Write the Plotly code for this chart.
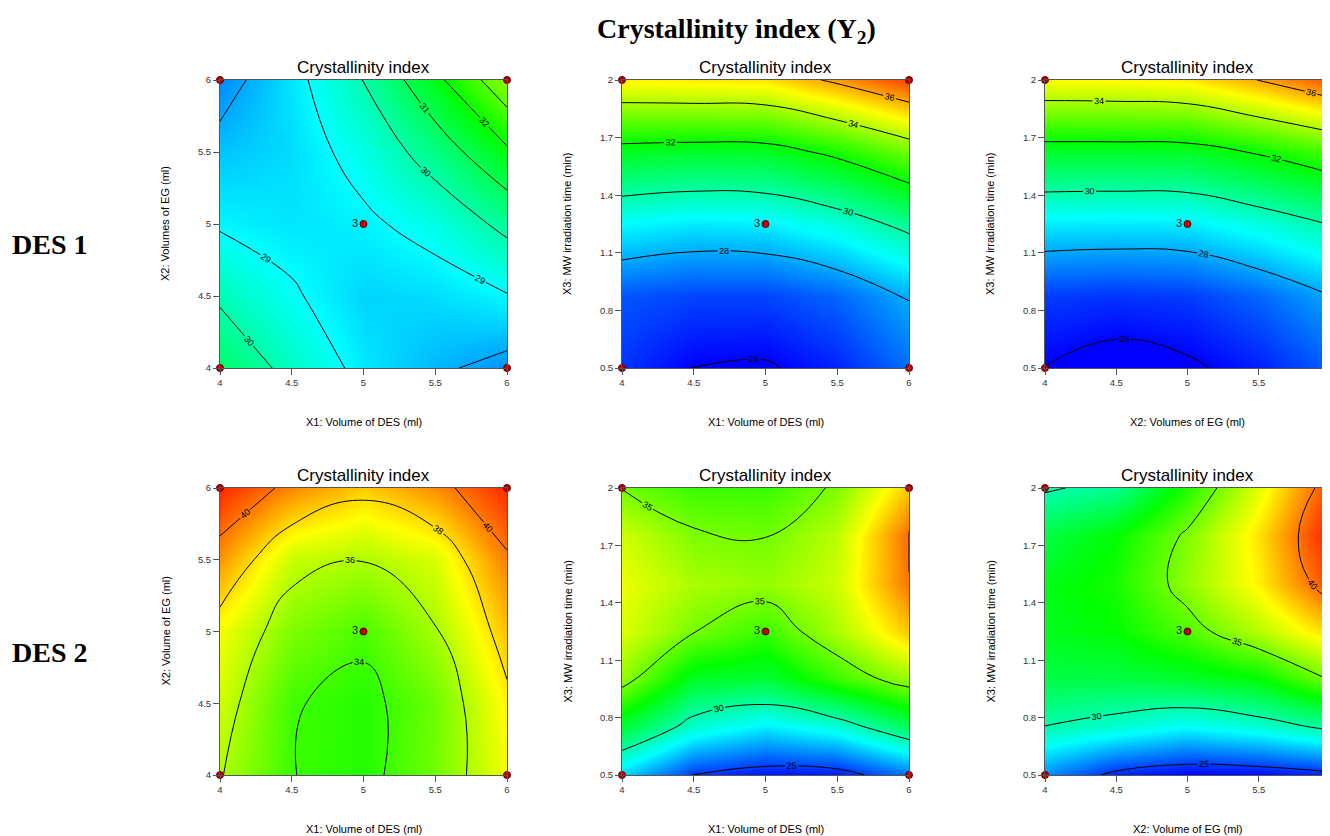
import plotly.graph_objects as go

# ---------------- data ----------------
x_grid = [4, 4.5, 5, 5.5, 6]                              # X1 or X2 factor levels
vol_grid = [4, 4.5, 5, 5.5, 6]                            # X2 volume levels (y)
time_grid = [0.5, 0.875, 1.25, 1.625, 2.0]                # X3 irradiation time (y)
time_grid_fine = [0.5, 0.75, 1.0, 1.25, 1.5, 1.75, 2.0]   # X3 levels for DES 2

tick_vol = [4, 4.5, 5, 5.5, 6]
tick_vol_text = ["4", "4.5", "5", "5.5", "6"]
tick_time = [0.5, 0.8, 1.1, 1.4, 1.7, 2]
tick_time_text = ["0.5", "0.8", "1.1", "1.4", "1.7", "2"]

# Crystallinity index estimates, rows = y levels (bottom -> top), cols = x levels
des1_x1_x2 = [
    [30.8, 29.7, 28.75, 28.15, 27.7],
    [29.85, 29.1, 28.5, 28.6, 28.95],
    [28.9, 28.7, 28.85, 29.3, 30.25],
    [28.3, 28.6, 29.3, 30.45, 31.85],
    [27.6, 28.7, 30.02, 31.75, 33.7],
]
des1_x1_x3 = [
    [26.6, 25.97, 25.9, 26.4, 27.3],
    [27.0, 26.8, 26.8, 27.2, 28.05],
    [29.0, 28.75, 28.85, 29.4, 30.3],
    [31.6, 31.5, 31.55, 32.25, 33.3],
    [35.1, 35.2, 35.3, 36.2, 37.2],
]
des1_x2_x3 = [
    [25.98, 25.6, 25.85, 26.35, 27.1],
    [26.7, 26.6, 26.7, 27.2, 27.98],
    [28.8, 28.75, 28.8, 29.35, 30.02],
    [31.5, 31.5, 31.55, 32.1, 32.8],
    [35.0, 35.05, 35.2, 36.02, 37.0],
]
des2_x1_x2 = [
    [36.1, 34.03, 33.6, 35.0, 37.3],
    [36.7, 34.1, 33.6, 34.9, 37.7],
    [37.3, 35.2, 34.3, 35.9, 38.6],
    [39.35, 36.5, 36.05, 36.8, 39.8],
    [41.3, 39.6, 38.4, 39.5, 41.3],
]
des2_x1_x3 = [
    [27.8, 24.95, 24.3, 24.4, 26.0],
    [32.1, 29.3, 28.2, 29.1, 31.4],
    [35.6, 32.3, 32.0, 34.0, 35.7],
    [36.9, 35.05, 34.0, 36.0, 38.5],
    [37.2, 36.0, 35.6, 36.6, 39.95],
    [36.7, 35.2, 34.98, 36.3, 40.15],
    [34.95, 34.0, 34.0, 35.2, 38.5],
]
des2_x2_x3 = [
    [26.5, 24.6, 24.0, 24.1, 24.6],
    [29.95, 29.3, 28.5, 29.2, 30.3],
    [31.8, 31.8, 32.2, 32.9, 35.1],
    [32.5, 33.0, 34.4, 36.2, 38.2],
    [32.6, 33.4, 35.6, 37.7, 40.8],
    [31.8, 33.0, 35.25, 38.0, 41.6],
    [29.8, 30.5, 33.6, 37.0, 40.8],
]

# design points: factorial corners + centre point (3 replicates)
corner_x = [4, 6, 4, 6]
corner_vol = [4, 4, 6, 6]
corner_time = [0.5, 0.5, 2, 2]
centre_x = [5]
centre_vol = [5]
centre_time = [1.25]
centre_text = ["3"]

# ---------------- styling ----------------
colorscale = [[0, "rgb(0,0,255)"], [0.25, "rgb(0,255,255)"], [0.5, "rgb(0,255,0)"],
              [0.75, "rgb(255,255,0)"], [1, "rgb(255,0,0)"]]
OFF = 8                      # page body margin of the browser
W, H = 1330 - OFF, 836 - OFF
col_px = [(220, 507), (622, 909), (1045, 1330)]
row_px = [(80, 368), (488, 775)]


def px(v):
    return v - OFF


panels = [
    dict(z=des1_x1_x2, y=vol_grid, ty=tick_vol, tyt=tick_vol_text, dy=corner_vol, cy=centre_vol,
         zr=(26, 38), c=(27, 34, 1), xt="X1: Volume of DES (ml)", yt="X2: Volumes of EG (ml)", yr=(4, 6)),
    dict(z=des1_x1_x3, y=time_grid, ty=tick_time, tyt=tick_time_text, dy=corner_time, cy=centre_time,
         zr=(26, 38), c=(26, 36, 2), xt="X1: Volume of DES (ml)", yt="X3: MW irradiation time (min)", yr=(0.5, 2)),
    dict(z=des1_x2_x3, y=time_grid, ty=tick_time, tyt=tick_time_text, dy=corner_time, cy=centre_time,
         zr=(26, 38), c=(26, 36, 2), xt="X2: Volumes of EG (ml)", yt="X3: MW irradiation time (min)", yr=(0.5, 2)),
    dict(z=des2_x1_x2, y=vol_grid, ty=tick_vol, tyt=tick_vol_text, dy=corner_vol, cy=centre_vol,
         zr=(24, 42), c=(34, 40, 2), xt="X1: Volume of DES (ml)", yt="X2: Volume of EG (ml)", yr=(4, 6)),
    dict(z=des2_x1_x3, y=time_grid_fine, ty=tick_time, tyt=tick_time_text, dy=corner_time, cy=centre_time,
         zr=(24, 42), c=(25, 40, 5), xt="X1: Volume of DES (ml)", yt="X3: MW irradiation time (min)", yr=(0.5, 2)),
    dict(z=des2_x2_x3, y=time_grid_fine, ty=tick_time, tyt=tick_time_text, dy=corner_time, cy=centre_time,
         zr=(24, 42), c=(25, 40, 5), xt="X2: Volume of EG (ml)", yt="X3: MW irradiation time (min)", yr=(0.5, 2)),
]

fig = go.Figure()
annotations = []
sans = "Liberation Sans, Arial, sans-serif"
serif = "Liberation Serif, Times New Roman, serif"
marker_style = dict(size=7, color="#c00000", line=dict(color="#500000", width=1))

for i, p in enumerate(panels):
    r, c = divmod(i, 3)
    n = "" if i == 0 else str(i + 1)
    xa, ya = "x" + n, "y" + n
    x0, x1 = px(col_px[c][0]), min(px(col_px[c][1]), W)
    y0, y1 = px(row_px[r][0]), px(row_px[r][1])

    fig.add_trace(go.Contour(
        x=x_grid, y=p["y"], z=p["z"], xaxis=xa, yaxis=ya,
        colorscale=colorscale, zmin=p["zr"][0], zmax=p["zr"][1], showscale=False,
        autocontour=False,
        contours=dict(start=p["c"][0], end=p["c"][1], size=p["c"][2], coloring="heatmap",
                      showlabels=True, labelfont=dict(size=9, color="black", family=sans)),
        line=dict(color="black", width=1, smoothing=1.3),
        hoverinfo="skip",
    ))
    fig.add_trace(go.Scatter(
        x=corner_x, y=p["dy"], xaxis=xa, yaxis=ya, mode="markers",
        marker=marker_style, cliponaxis=False, showlegend=False, hoverinfo="skip",
    ))
    fig.add_trace(go.Scatter(
        x=centre_x, y=p["cy"], xaxis=xa, yaxis=ya, mode="markers+text",
        text=centre_text, textposition="middle left",
        textfont=dict(size=11, color="#222", family=sans),
        marker=marker_style, cliponaxis=False, showlegend=False, hoverinfo="skip",
    ))

    axis_common = dict(showline=True, linecolor="#555", linewidth=1, mirror=True,
                       ticks="outside", ticklen=6, tickcolor="#555", tickwidth=1,
                       showgrid=False, zeroline=False, fixedrange=True, automargin=False,
                       tickfont=dict(size=9.5, color="#333", family=sans))
    fig.layout["xaxis" + n] = dict(axis_common, domain=[x0 / W, x1 / W], range=[4, 6],
                                   tickvals=tick_vol, ticktext=tick_vol_text, anchor=ya)
    fig.layout["yaxis" + n] = dict(axis_common, domain=[1 - y1 / H, 1 - y0 / H], range=list(p["yr"]),
                                   tickvals=p["ty"], ticktext=p["tyt"], anchor=xa)

    cx = (px(col_px[c][0]) + px(col_px[c][1])) / 2
    # subplot title
    annotations.append(dict(text="Crystallinity index", x=cx / W, y=1 - (y0 - 12) / H,
                            xref="paper", yref="paper", showarrow=False, xanchor="center", yanchor="middle",
                            font=dict(size=17, color="black", family=sans)))
    # x-axis title
    annotations.append(dict(text=p["xt"], x=cx / W, y=1 - (y1 + 54) / H,
                            xref="paper", yref="paper", showarrow=False, xanchor="center", yanchor="middle",
                            font=dict(size=11, color="black", family=sans)))
    # y-axis title
    annotations.append(dict(text=p["yt"], x=(x0 - 55) / W, y=1 - (y0 + y1) / 2 / H, textangle=-90,
                            xref="paper", yref="paper", showarrow=False, xanchor="center", yanchor="middle",
                            font=dict(size=11, color="black", family=sans)))

annotations.append(dict(text="<b>Crystallinity index (Y<sub>2</sub>)</b>", x=px(737) / W, y=1 - px(30) / H,
                        xref="paper", yref="paper", showarrow=False, xanchor="center", yanchor="middle",
                        font=dict(size=28, color="black", family=serif)))
annotations.append(dict(text="<b>DES 1</b>", x=px(10) / W, y=1 - px(245) / H, xref="paper", yref="paper",
                        showarrow=False, xanchor="left", yanchor="middle",
                        font=dict(size=28, color="black", family=serif)))
annotations.append(dict(text="<b>DES 2</b>", x=px(10) / W, y=1 - px(652) / H, xref="paper", yref="paper",
                        showarrow=False, xanchor="left", yanchor="middle",
                        font=dict(size=28, color="black", family=serif)))

fig.update_layout(width=W, height=H, margin=dict(l=0, r=0, t=0, b=0),
                  paper_bgcolor="white", plot_bgcolor="white", showlegend=False,
                  annotations=annotations)

fig.write_html("out.html")
